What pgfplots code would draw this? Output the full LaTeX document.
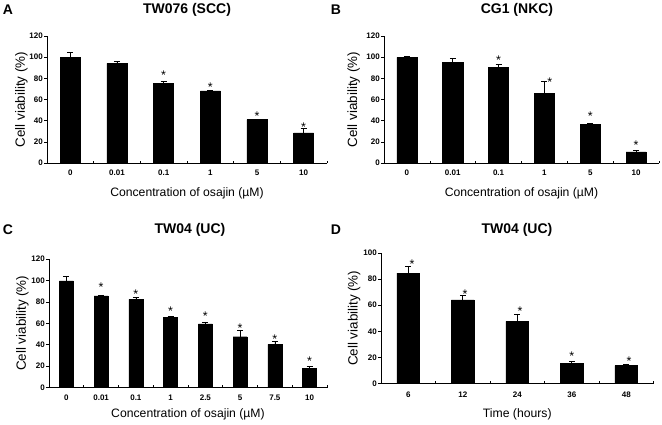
\documentclass[border=0pt]{standalone}
\usepackage{fontspec}
\setmainfont{Liberation Sans}
\usepackage{pgfplots}
\pgfplotsset{compat=1.18}
\pgfplotsset{
  panel/.style={
    scale only axis,
    axis x line=bottom, axis y line=left,
    axis line style={-, line width=0.8pt, black},
    ymin=0,
    xtick=data,
    major x tick style={draw=none},
    minor x tick style={line width=0.6pt, black, yshift=2.5pt},
    minor tick length=2.5pt,
    major tick length=3pt,
    y tick style={line width=0.6pt, black},
    tick align=outside,
    x tick label style={font=\fontsize{8}{9}\selectfont\bfseries, inner sep=1pt, yshift=-3pt},
    y tick label style={font=\fontsize{8}{9}\selectfont\bfseries, inner sep=1pt},
    /pgf/number format/assume math mode=true,
    every axis y label/.style={rotate=90, anchor=base, font=\fontsize{13.4}{14}\selectfont},
    every axis x label/.style={anchor=base, font=\fontsize{12.2}{13}\selectfont},
    clip=false,
  },
  bars/.style={ybar, bar shift=0pt, fill=black, draw=black, line width=0.4pt,
    error bars/.cd, y dir=plus, y explicit,
    error bar style={line width=0.6pt, black},
    error mark options={line width=0.6pt, black, mark size=3pt, rotate=90},
    /pgfplots/.cd},
  stars/.style={draw=none, mark=none, nodes near coords={*},
    every node near coord/.append style={anchor=center, inner sep=0pt,
      font=\fontsize{12.5}{12.5}\selectfont, yshift=-2.5pt}},
}
\begin{document}
\begin{tikzpicture}
\useasboundingbox (0,0) rectangle (662pt,424pt);
% Titles and panel letters
\node[font=\fontsize{14}{14}\selectfont\bfseries] at (8pt,414pt) {A};
\node[font=\fontsize{14}{14}\selectfont\bfseries] at (187pt,414pt) {TW076 (SCC)};
\node[font=\fontsize{14}{14}\selectfont\bfseries] at (336pt,414pt) {B};
\node[font=\fontsize{14}{14}\selectfont\bfseries] at (517pt,414pt) {CG1 (NKC)};
\node[font=\fontsize{14}{14}\selectfont\bfseries] at (8pt,194pt) {C};
\node[font=\fontsize{14}{14}\selectfont\bfseries] at (190pt,194pt) {TW04 (UC)};
\node[font=\fontsize{14}{14}\selectfont\bfseries] at (336pt,194pt) {D};
\node[font=\fontsize{14}{14}\selectfont\bfseries] at (517pt,194pt) {TW04 (UC)};

% Panel A
\begin{axis}[panel, at={(47pt,261pt)}, anchor=south west,
  width=280pt, height=127pt,
  xmin=-0.5, xmax=5.5, ymax=120, ytick={0,20,...,120},
  minor xtick={-0.5,0.5,...,5.5},
  xticklabels={0,0.01,0.1,1,5,10},
  ylabel={Cell viability (\%)}, xlabel={Concentration of osajin (µM)},
  ylabel style={at={(axis description cs:-0.079,0.5)}},
  xlabel style={at={(axis description cs:0.5,-0.265)}},
]
\addplot[bars, bar width=0.43] coordinates {
  (0,100) +- (0,4.7)
  (1,94.2) +- (0,1.9)
  (2,75.4) +- (0,1.6)
  (3,68.2) +- (0,0.9)
  (4,41.0) +- (0,0.5)
  (5,28.5) +- (0,4.5)
};
\addplot[stars] coordinates {(2,85.3) (3,74.4) (4,47) (5,35.9)};
\end{axis}

% Panel B
\begin{axis}[panel, at={(384pt,261pt)}, anchor=south west,
  width=275pt, height=127pt,
  xmin=-0.5, xmax=5.5, ymax=120, ytick={0,20,...,120},
  minor xtick={-0.5,0.5,...,5.5},
  xticklabels={0,0.01,0.1,1,5,10},
  ylabel={Cell viability (\%)}, xlabel={Concentration of osajin (µM)},
  ylabel style={at={(axis description cs:-0.098,0.5)}},
  xlabel style={at={(axis description cs:0.5,-0.265)}},
]
\addplot[bars, bar width=0.44] coordinates {
  (0,99.7) +- (0,1.1)
  (1,94.9) +- (0,4.1)
  (2,90.2) +- (0,3.1)
  (3,66.0) +- (0,10.8)
  (4,36.8) +- (0,0.9)
  (5,10.4) +- (0,1.2)
};
\addplot[stars] coordinates {(2,99.9) (3.12,78.4) (4,46.3) (5,19.2)};
\end{axis}

% Panel C
\begin{axis}[panel, at={(49pt,36.5pt)}, anchor=south west,
  width=278pt, height=128.5pt,
  xmin=-0.5, xmax=7.5, ymax=120, ytick={0,20,...,120},
  minor xtick={-0.5,0.5,...,7.5},
  xticklabels={0,0.01,0.1,1,2.5,5,7.5,10},
  ylabel={Cell viability (\%)}, xlabel={Concentration of osajin (µM)},
  ylabel style={at={(axis description cs:-0.083,0.5)}},
  xlabel style={at={(axis description cs:0.5,-0.235)}},
]
\addplot[bars, bar width=0.4] coordinates {
  (0,99.6) +- (0,3.8)
  (1,85.5) +- (0,0.5)
  (2,82.3) +- (0,1.6)
  (3,65.7) +- (0,0.6)
  (4,59.4) +- (0,1.9)
  (5,47.4) +- (0,5.7)
  (6,40.2) +- (0,2.8)
  (7,17.9) +- (0,1.9)
};
\addplot[stars] coordinates {(1,96) (2,89.8) (3,73.6) (4,68.9) (5,58) (6,47.2) (7,26.9)};
\end{axis}

% Panel D
\begin{axis}[panel, at={(381pt,40.5pt)}, anchor=south west,
  width=272.5pt, height=130.5pt,
  xmin=-0.5, xmax=4.5, ymax=100, ytick={0,20,...,100},
  minor xtick={-0.5,0.5,...,4.5},
  xticklabels={6,12,24,36,48},
  x tick label style={yshift=-1.5pt},
  ylabel={Cell viability (\%)}, xlabel={Time (hours)},
  ylabel style={at={(axis description cs:-0.086,0.5)}},
  xlabel style={at={(axis description cs:0.5,-0.257)}},
]
\addplot[bars, bar width=0.42] coordinates {
  (0,84.5) +- (0,5.1)
  (1,64.0) +- (0,3.5)
  (2,47.7) +- (0,5.3)
  (3,15.5) +- (0,1.3)
  (4,13.7) +- (0,1.3)
};
\addplot[stars] coordinates {(0.07,93.1) (1.04,70.1) (2.05,57.3) (3,22.8) (4.05,19)};
\end{axis}
\end{tikzpicture}
\end{document}
